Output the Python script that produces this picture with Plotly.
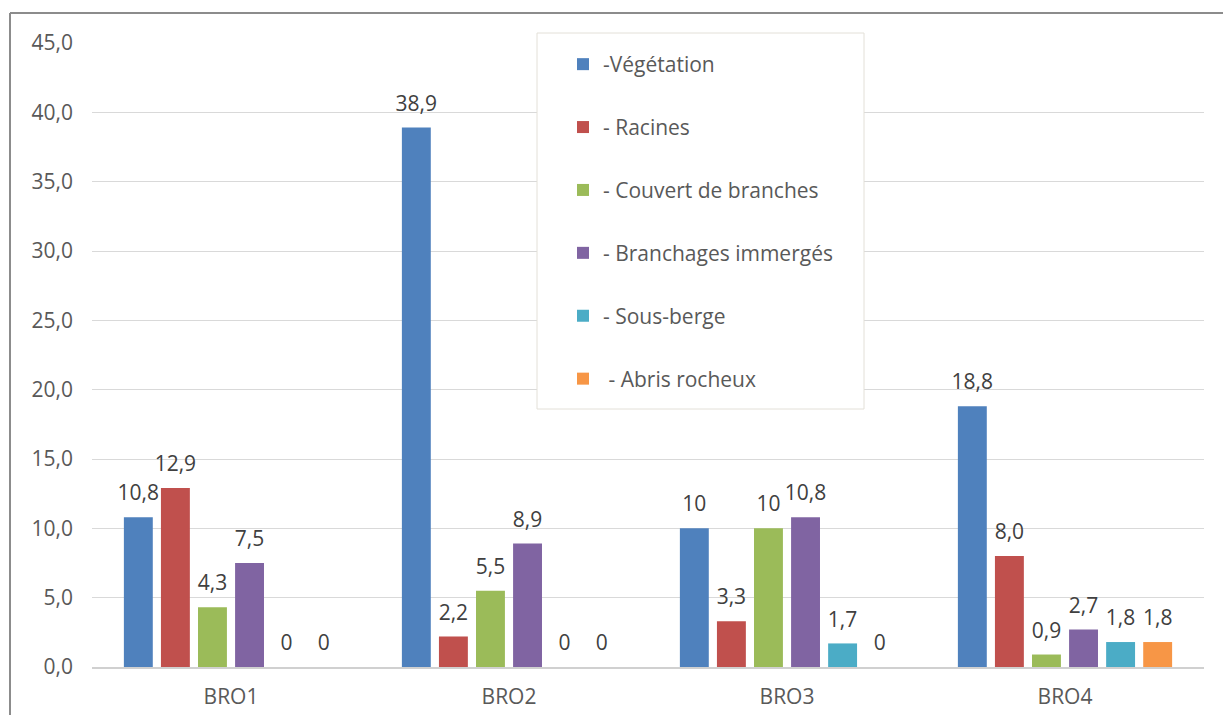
import plotly.graph_objects as go

# Stations and habitat categories
stations = ["BRO1", "BRO2", "BRO3", "BRO4"]

series_names = [
    "-Végétation",
    "- Racines",
    "- Couvert de branches",
    "- Branchages immergés",
    "- Sous-berge",
    " - Abris rocheux",
]

vegetation = [10.8, 38.9, 10.0, 18.8]
racines = [12.9, 2.2, 3.3, 8.0]
couvert = [4.3, 5.5, 10.0, 0.9]
branchages = [7.5, 8.9, 10.8, 2.7]
sous_berge = [0.0, 0.0, 1.7, 1.8]
abris = [0.0, 0.0, 0.0, 1.8]

# Data labels as printed above each bar
vegetation_lbl = ["10,8", "38,9", "10", "18,8"]
racines_lbl = ["12,9", "2,2", "3,3", "8,0"]
couvert_lbl = ["4,3", "5,5", "10", "0,9"]
branchages_lbl = ["7,5", "8,9", "10,8", "2,7"]
sous_berge_lbl = ["0", "0", "1,7", "1,8"]
abris_lbl = ["0", "0", "0", "1,8"]

y_ticks = [0, 5, 10, 15, 20, 25, 30, 35, 40, 45]

values = [vegetation, racines, couvert, branchages, sous_berge, abris]
labels = [vegetation_lbl, racines_lbl, couvert_lbl, branchages_lbl, sous_berge_lbl, abris_lbl]
colors = ["#4F81BD", "#C0504D", "#9BBB59", "#8064A2", "#4BACC6", "#F79646"]

FONT = "Open Sans"
TXT = "#595959"
FS = 21

fig = go.Figure()
for i, (name, vals, col) in enumerate(zip(series_names, values, colors)):
    fig.add_trace(go.Bar(
        x=stations, y=vals, name=name,
        marker=dict(color=col, line=dict(width=0)),
        offsetgroup=f"s{i}", legendgroup=f"g{i}",
        hoverinfo="skip",
    ))

# Value labels: grouped text points sitting above each bar
for i, (vals, lbls) in enumerate(zip(values, labels)):
    fig.add_trace(go.Scatter(
        x=stations, y=vals, text=lbls, mode="markers+text",
        textposition="top center",
        textfont=dict(family=FONT, size=FS, color="#404040"),
        marker=dict(size=17, opacity=0),
        offsetgroup=f"s{i}", showlegend=False, cliponaxis=False,
        hoverinfo="skip",
    ))

# Plot area geometry in pixels
L, R, T, B = 92, 19, 43, 48
W, H = 1223, 715
pw, ph = W - L - R, H - T - B


def px_x(x):
    return (x - L) / pw


def px_y(y):
    return (H - B - y) / ph


shapes = [
    # outer chart frame (left and top edges)
    dict(type="line", xref="paper", yref="paper", x0=px_x(10), x1=px_x(10),
         y0=px_y(716), y1=px_y(13), line=dict(color="#8c8c8c", width=2)),
    dict(type="line", xref="paper", yref="paper", x0=px_x(10), x1=px_x(1224),
         y0=px_y(13), y1=px_y(13), line=dict(color="#8c8c8c", width=2)),
    # legend box
    dict(type="rect", xref="paper", yref="paper", layer="above",
         x0=px_x(537), x1=px_x(864), y0=px_y(409), y1=px_y(33),
         fillcolor="white", line=dict(color="#e3e0d8", width=1)),
]

fig.update_layout(
    width=W, height=H,
    margin=dict(l=L, r=R, t=T, b=B, pad=0, autoexpand=False),
    paper_bgcolor="white", plot_bgcolor="white",
    separators=", ",
    barmode="group", bargap=0.2, bargroupgap=0.22,
    scattermode="group", scattergap=0.2,
    font=dict(family=FONT, color=TXT, size=FS),
    showlegend=True,
    legend=dict(
        x=px_x(563), y=px_y(44), xanchor="left", yanchor="top",
        bgcolor="rgba(0,0,0,0)", borderwidth=0,
        traceorder="grouped", tracegroupgap=32.6,
        font=dict(family=FONT, size=FS, color=TXT),
        itemclick=False, itemdoubleclick=False,
    ),
    xaxis=dict(
        showgrid=False, showline=True, linecolor="#d0d0d0", linewidth=2,
        ticks="", tickfont=dict(family=FONT, size=FS, color=TXT),
        ticklabelstandoff=10, fixedrange=True, automargin=False,
    ),
    yaxis=dict(
        range=[0, 45], tickvals=y_ticks, tickformat=".1f",
        showgrid=True, gridcolor="#d9d9d9", gridwidth=1,
        zeroline=False, showline=False, ticks="",
        tickfont=dict(family=FONT, size=FS, color=TXT),
        ticklabelstandoff=18, fixedrange=True, automargin=False,
    ),
    shapes=shapes,
)

fig.write_html("out.html")
